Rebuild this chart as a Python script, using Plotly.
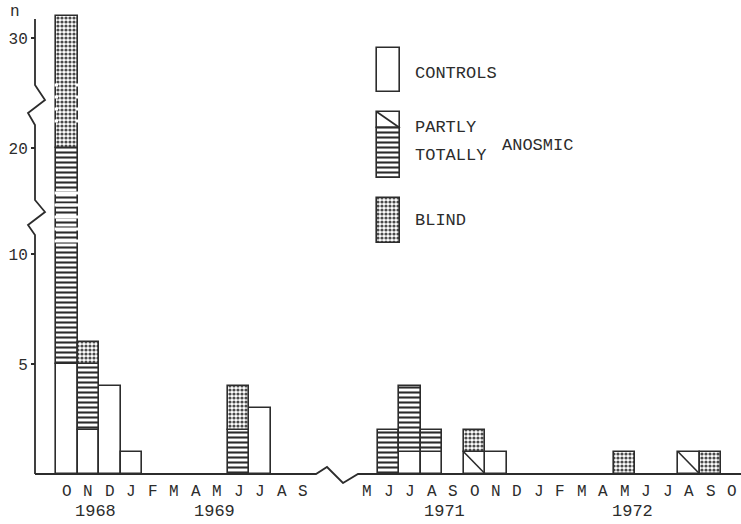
import plotly.graph_objects as go

# ---------------- data ----------------
months_1968_69 = ["O", "N", "D", "J", "F", "M", "A", "M", "J", "J", "A", "S"]
months_1971_72 = ["M", "J", "J", "A", "S", "O", "N", "D", "J", "F", "M", "A",
                  "M", "J", "J", "A", "S", "O"]

controls_1 = [5, 2, 4, 1, 0, 0, 0, 0, 0, 3, 0, 0]
partly_1 = [0, 0, 0, 0, 0, 0, 0, 0, 0, 0, 0, 0]
totally_1 = [15, 3, 0, 0, 0, 0, 0, 0, 2, 0, 0, 0]
blind_1 = [12, 1, 0, 0, 0, 0, 0, 0, 2, 0, 0, 0]

controls_2 = [0, 0, 1, 1, 0, 0, 1, 0, 0, 0, 0, 0, 0, 0, 0, 0, 0, 0]
partly_2 = [0, 0, 0, 0, 0, 1, 0, 0, 0, 0, 0, 0, 0, 0, 0, 1, 0, 0]
totally_2 = [0, 2, 3, 1, 0, 0, 0, 0, 0, 0, 0, 0, 0, 0, 0, 0, 0, 0]
blind_2 = [0, 0, 0, 0, 0, 1, 0, 0, 0, 0, 0, 0, 1, 0, 0, 0, 1, 0]

year_labels = ["1968", "1969", "1971", "1972"]
y_tick_values = [5, 10, 20, 30]

# ---------------- layout helpers ----------------
W, H = 741, 524
MB = 40                      # bottom margin
PX_X0, PX_STEP = 67.0, 21.45  # pixel of first month, pixels per month
PX_Y0, PX_UNIT = 474.0, 22.0  # baseline pixel, pixels per display unit
GAP = 2                       # months skipped at the x break
INK = "#2c2c2c"
FONT = "Liberation Mono"


def px2x(px):
    return (px - PX_X0) / PX_STEP


def py2y(py):
    return (PX_Y0 - py) / PX_UNIT


def scale(v):
    """broken y scale: full scale up to 10, compressed above"""
    if v <= 10:
        return v
    if v <= 20:
        return 10 + 0.48 * (v - 10)
    return 14.8 + 0.5 * (v - 20)


months = months_1968_69 + months_1971_72
n1 = len(months_1968_69)
xpos = list(range(n1)) + [n1 + GAP + i for i in range(len(months_1971_72))]
series = [
    ("CONTROLS", controls_1 + controls_2),
    ("PARTLY", partly_1 + partly_2),
    ("TOTALLY", totally_1 + totally_2),
    ("BLIND", blind_1 + blind_2),
]

patterns = {
    "CONTROLS": dict(shape=""),
    "PARTLY": dict(shape=""),
    "TOTALLY": dict(shape="-", size=5, solidity=0.42, fgcolor=INK, bgcolor="white"),
    "BLIND": dict(shape=".", size=4, solidity=0.5, fgcolor="#4a4a4a", bgcolor="white"),
}

fig = go.Figure()
shapes = []
cum = [0] * len(months)
for name, vals in series:
    xs, bases, hs = [], [], []
    for k, v in enumerate(vals):
        if v > 0:
            lo, hi = scale(cum[k]), scale(cum[k] + v)
            xs.append(xpos[k])
            bases.append(lo)
            hs.append(hi - lo)
            if name == "PARTLY":
                shapes.append(dict(type="line", xref="x", yref="y",
                                   x0=xpos[k] - 0.5, y0=hi, x1=xpos[k] + 0.5, y1=lo,
                                   line=dict(color=INK, width=1.6)))
        cum[k] += v
    fig.add_trace(go.Bar(
        x=xs, y=hs, base=bases, width=1, name=name, showlegend=False,
        marker=dict(color="white", line=dict(color=INK, width=1.6),
                    pattern=patterns[name]),
    ))

# ---------------- legend swatches (drawn as bars) ----------------
def swatch(name, top_px, bot_px):
    fig.add_trace(go.Bar(
        x=[px2x(388.5)], y=[py2y(top_px) - py2y(bot_px)], base=[py2y(bot_px)],
        width=23 / PX_STEP, showlegend=False, hoverinfo="skip",
        marker=dict(color="white", line=dict(color=INK, width=1.6),
                    pattern=patterns[name]),
    ))


swatch("CONTROLS", 48, 92)
swatch("PARTLY", 112, 128)
swatch("TOTALLY", 128, 178)
swatch("BLIND", 198, 243)
shapes.append(dict(type="line", xref="x", yref="y",
                   x0=px2x(377), y0=py2y(112), x1=px2x(400), y1=py2y(128),
                   line=dict(color=INK, width=1.6)))

# ---------------- axes drawn with breaks ----------------
yaxis_pts = [(35, 19), (35, 85), (45, 100), (28, 113), (35, 125), (35, 200),
             (45, 212), (28, 225), (35, 235), (35, 474)]
xaxis_pts = [(35, 474), (316, 474), (327, 467), (343, 483), (358, 474), (741, 474)]
for pts in (yaxis_pts, xaxis_pts):
    path = "M " + " L ".join(f"{px2x(a):.4f},{py2y(b):.4f}" for a, b in pts)
    shapes.append(dict(type="path", xref="x", yref="y", path=path,
                       line=dict(color=INK, width=1.8)))

# broken look of the tall first bar
for gy in (85, 97, 109, 121):
    for side in (-0.5, 0.5):
        shapes.append(dict(type="rect", xref="x", yref="y", layer="above",
                           x0=side - 0.08, x1=side + 0.08,
                           y0=py2y(gy + 1.5), y1=py2y(gy - 1.5),
                           fillcolor="white", line=dict(width=0)))
for gy in (193, 205, 217, 229, 241):
    shapes.append(dict(type="rect", xref="x", yref="y", layer="above",
                       x0=-0.58, x1=0.58, y0=py2y(gy + 1.5), y1=py2y(gy - 1.5),
                       fillcolor="white", line=dict(width=0)))

# ---------------- annotations ----------------
tfont = dict(family=FONT, size=16, color=INK)
annotations = []
# month labels (one letter under each month slot)
for xv, lab in zip(xpos, months):
    annotations.append(dict(text=lab, x=xv, xref="x", y=0, yref="paper",
                            yanchor="middle", yshift=-(492 - (H - MB)),
                            showarrow=False, borderpad=0, font=tfont))
year_centres_px = [95, 214, 444, 632]
for lab, cx in zip(year_labels, year_centres_px):
    annotations.append(dict(text=lab, x=px2x(cx), xref="x", y=0, yref="paper",
                            yanchor="middle", yshift=-(511 - (H - MB)),
                            showarrow=False, borderpad=0,
                            font=dict(family=FONT, size=17, color=INK)))
legend_texts = [("CONTROLS", 413, 73), ("PARTLY", 413, 127), ("TOTALLY", 413, 155),
                ("ANOSMIC", 500, 145), ("BLIND", 413, 220)]
for lab, lx, ly in legend_texts:
    annotations.append(dict(text=lab, x=px2x(lx), y=py2y(ly), xref="x", yref="y",
                            xanchor="left", yanchor="middle", showarrow=False,
                            font=dict(family=FONT, size=17, color=INK)))
annotations.append(dict(text="n", x=px2x(15), y=py2y(12), xref="x", yref="y",
                        showarrow=False, font=dict(family=FONT, size=16, color=INK)))

fig.update_layout(
    template="none",
    width=W, height=H,
    margin=dict(l=0, r=0, t=0, b=MB),
    paper_bgcolor="white", plot_bgcolor="white",
    barmode="overlay", bargap=0,
    showlegend=False,
    shapes=shapes, annotations=annotations,
    xaxis=dict(range=[px2x(0), px2x(W)], showticklabels=False,
               showgrid=False, zeroline=False, showline=False, ticks="",
               automargin=False, fixedrange=True),
    yaxis=dict(range=[py2y(H - MB), py2y(0)], anchor="free", position=35 / W,
               tickvals=[scale(v) for v in y_tick_values],
               ticktext=[str(v) for v in y_tick_values],
               ticks="outside", ticklen=4, tickwidth=1.5, tickcolor=INK,
               showgrid=False, zeroline=False, showline=False,
               tickfont=tfont, automargin=False, fixedrange=True),
)

fig.write_html(
    "out.html",
    config={"displayModeBar": False},
    post_script="document.body.style.margin='0';document.body.style.overflow='hidden';",
)
